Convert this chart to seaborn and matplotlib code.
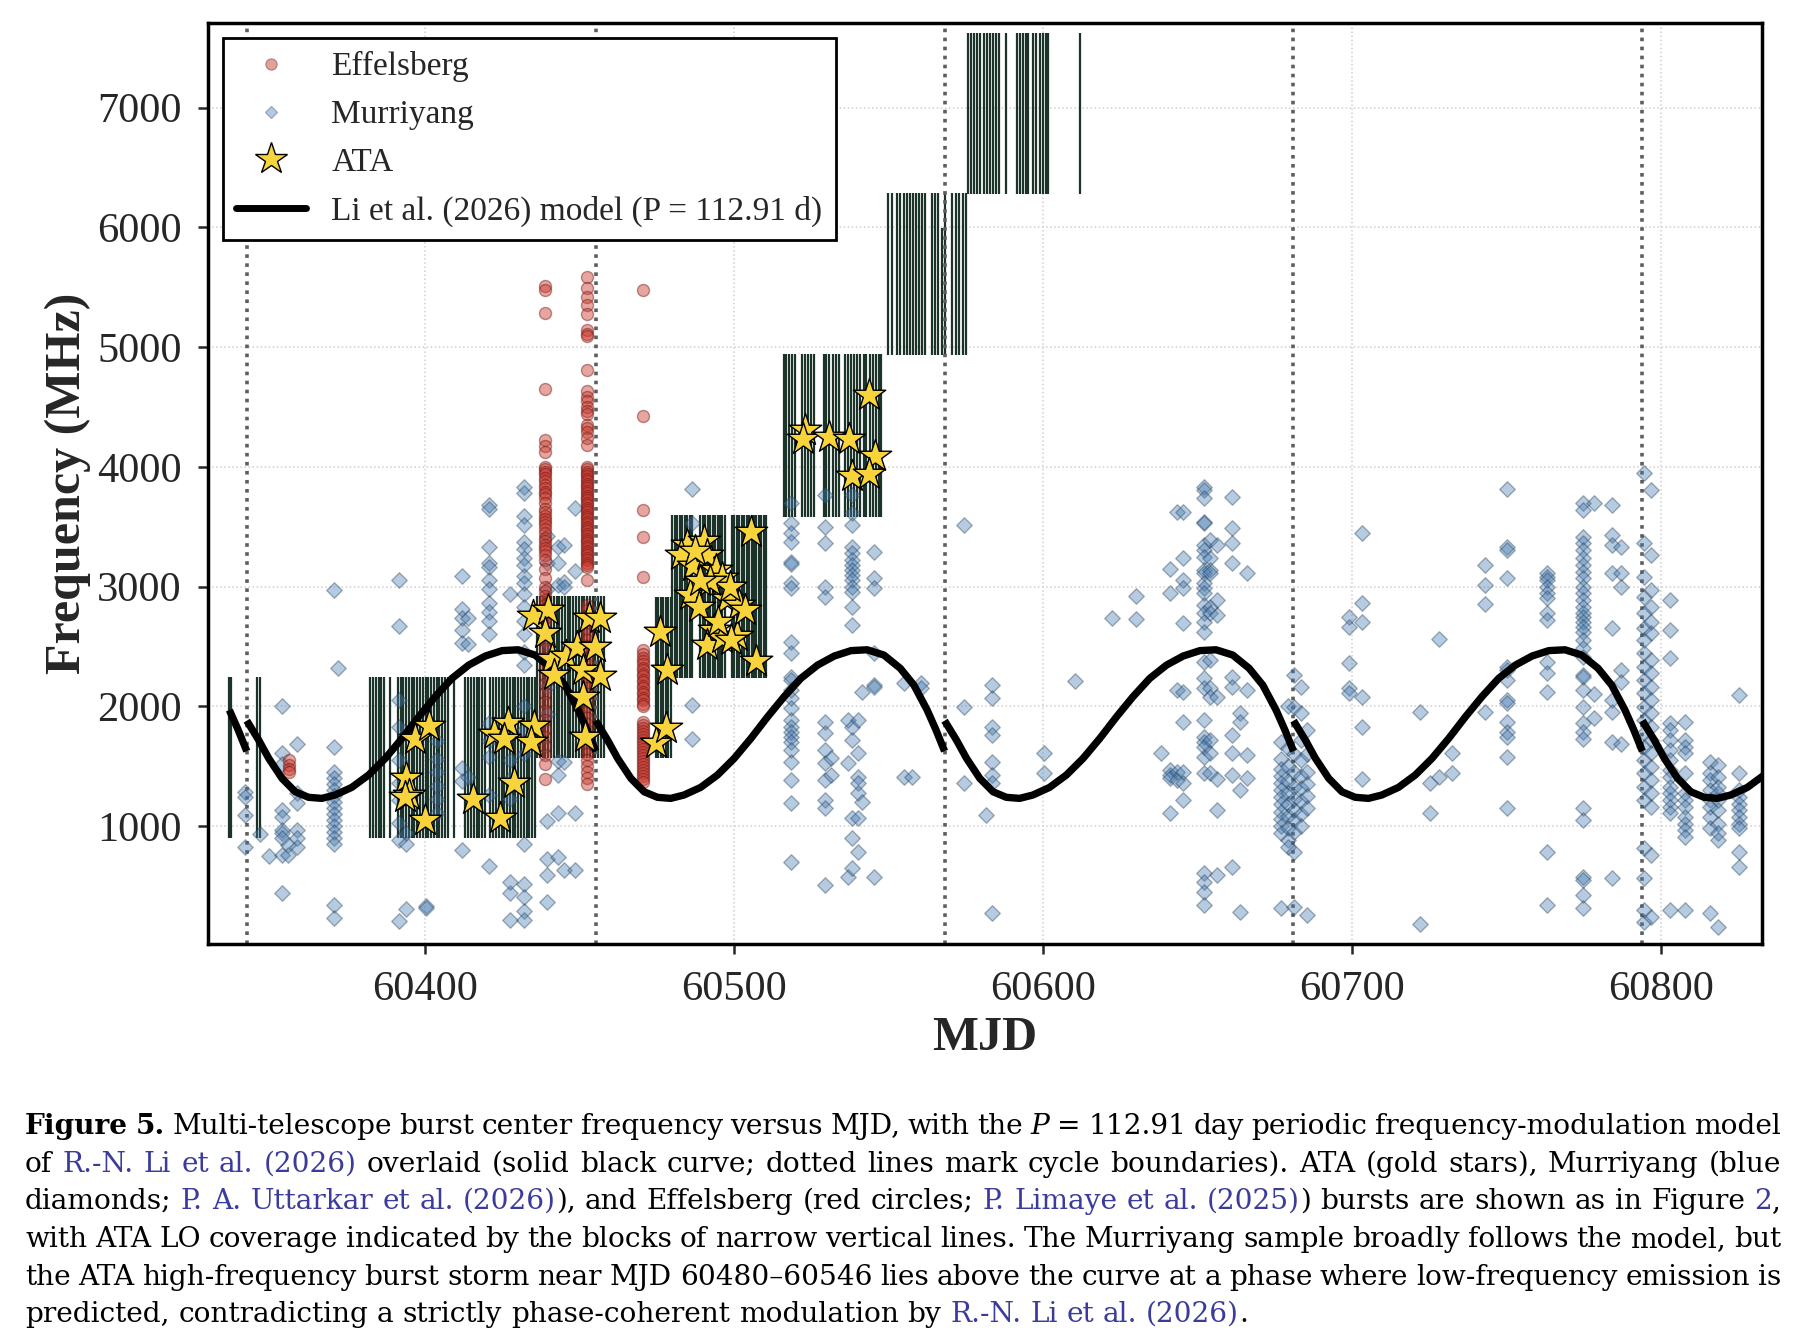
import numpy as np
import pandas as pd
import matplotlib
matplotlib.use("Agg")
import matplotlib.pyplot as plt
import seaborn as sns
from matplotlib.lines import Line2D

# ---------------- data ----------------
# Murriyang bursts: one entry per observing day, list of centre frequencies (MHz)
murr_days = [60341.8, 60346.8, 60349.8, 60353.8, 60355.8, 60358.8, 60370.7, 60372.0, 60391.8, 60394.0,
             60400.6, 60404.0, 60412.0, 60414.0, 60420.7, 60427.5, 60432.2, 60439.6, 60443.3, 60445.0,
             60448.7, 60486.4, 60518.6, 60529.6, 60531.5, 60537.0, 60538.4, 60540.4, 60541.5, 60545.4,
             60555.2, 60557.7, 60560.6, 60574.6, 60581.6, 60583.6, 60600.3, 60610.5, 60622.4, 60630.3,
             60638.4, 60641.3, 60643.5, 60645.5, 60652.1, 60654.2, 60656.4, 60661.2, 60664.0, 60666.1,
             60677.0, 60679.5, 60681.5, 60683.5, 60685.5, 60699.0, 60703.3, 60722.2, 60725.4, 60728.2,
             60732.4, 60743.2, 60750.2, 60763.2, 60775.0, 60778.3, 60784.2, 60787.1, 60794.5, 60796.8,
             60803.1, 60808.0, 60816.0, 60818.5, 60825.5]
murr_freqs = [
    [1286, 1244, 1092, 822], [933], [750],
    [2000, 1606, 1522, 1133, 1078, 967, 939, 897, 758, 439], [842, 758],
    [1689, 1272, 1189, 967, 897, 828],
    [2972, 1661, 1453, 1400, 1350, 1300, 1250, 1200, 1150, 1100, 1050, 1000, 950, 900, 850, 342, 231],
    [2322],
    [3056, 2669, 2056, 1828, 1550, 1356, 1217, 1022, 883, 203], [939, 852, 311], [330, 316],
    [1709, 1560, 1448, 1336, 1225, 1113],
    [3089, 2809, 2734, 2641, 2529, 1486, 1374, 796], [2740, 2520, 1410],
    [3685, 3648, 3331, 3200, 3163, 3051, 2977, 2865, 2790, 2716, 2604, 1858, 1709, 1578, 1259, 666],
    [2940, 1389, 1222, 1555, 442, 535, 218],
    [3834, 3778, 3592, 3517, 3368, 3312, 3238, 3182, 3089, 3033, 2940, 2828, 2716, 2604, 2455, 2343,
     2000, 1800, 1600, 852, 517, 405, 293, 218],
    [3424, 3200, 2977, 2753, 2529, 2380, 2157, 1933, 1038, 721, 591, 367],
    [3331, 3200, 3014, 1541, 1430, 1113, 740], [3350, 3035, 2998, 1537, 630], [3655, 3126, 636, 1108],
    [3814, 3527, 2010, 1723],
    [3695, 3528, 3450, 3374, 3207, 3188, 3026, 2985, 2539, 2442, 2247, 2219, 2136, 2066, 1982, 1885,
     1829, 1788, 1746, 1704, 1634, 1537, 1384, 1195, 702],
    [3764, 3500, 3360, 2999, 2915, 1871, 1774, 1634, 1523, 1384, 1217, 1147, 507], [1565, 1426],
    [1885, 1523, 576],
    [3764, 3611, 3514, 3333, 3277, 3221, 3180, 3138, 3096, 3054, 2999, 2957, 2832, 2678, 1829, 1718,
     1064, 897, 646],
    [1885, 1607, 1412, 1356, 1272, 1064, 785], [2122, 1203], [3291, 3068, 2985, 2442, 2177, 2163, 576],
    [2191, 1412], [1412], [2191, 2150], [3514, 1991, 1356], [1091],
    [2177, 2066, 1824, 1760, 1537, 1426, 1356, 270], [1607, 1440], [2213], [2734], [2921, 2726],
    [1612], [3143, 2948, 1467, 1426, 1398, 1106], [3625, 2136, 1454, 1384],
    [3624, 3235, 3054, 2984, 2697, 2121, 1870, 1453, 1356, 1216],
    [3833, 3805, 3736, 3541, 3527, 3346, 3304, 3249, 3137, 3109, 3026, 2984, 2942, 2845, 2775, 2706,
     2622, 2372, 2233, 2149, 1885, 1745, 1703, 1662, 1578, 1439, 604, 534, 451, 340],
    [3388, 3235, 3137, 3109, 2831, 2775, 2386, 2149, 2079, 1717, 1606, 1439],
    [3346, 2887, 2761, 2079, 1397, 1133, 590],
    [3750, 3485, 3360, 3193, 2247, 2163, 1759, 1606, 1425, 659], [1940, 1870, 1300, 285],
    [3110, 2136, 1592, 1398],
    [1703, 1564, 1480, 1420, 1360, 1300, 1240, 1180, 1120, 1060, 1000, 940, 312],
    [2000, 1650, 1500, 1380, 1280, 1180, 1080, 980, 880, 827],
    [2260, 1996, 1600, 1450, 1330, 1230, 1130, 1050, 950, 785, 325],
    [2163, 1940, 1717, 1550, 1420, 1320, 1210, 1100, 1000],
    [1800, 1600, 1450, 1350, 1250, 1150, 256],
    [2747, 2664, 2358, 2149, 2107], [3443, 2859, 2706, 2079, 1829, 1397], [1954, 186], [1356, 1105],
    [2566, 1411], [1606, 1439], [3179, 3012, 2853, 1954],
    [3811, 3332, 3304, 3068, 2330, 2302, 2219, 2051, 2024, 1870, 1787, 1745, 1578, 1147],
    [3109, 3082, 3054, 2998, 2943, 2901, 2776, 2720, 2372, 2274, 2121, 785, 339],
    [3694, 3638, 3416, 3360, 3304, 3235, 3179, 3123, 3068, 2998, 2943, 2887, 2831, 2775, 2748, 2706,
     2664, 2622, 2553, 2483, 2413, 2260, 2246, 2135, 1996, 1857, 1787, 1731, 1147, 1049, 576, 548, 423, 312],
    [3694, 2100, 1900],
    [3680, 3430, 3346, 3109, 2650, 2051, 1954, 1703, 562],
    [3332, 3109, 2998, 2302, 2204, 1689],
    [3945, 3360, 3082, 2915, 2776, 2650, 2553, 2441, 2330, 2219, 2107, 1996, 1885, 1773, 1662, 1550,
     1439, 1328, 1216, 813, 562, 298, 200],
    [3805, 3262, 2971, 2831, 2706, 2608, 2386, 2274, 2163, 2051, 1940, 1829, 1717, 1606, 1495, 1383,
     1272, 1161, 757, 242],
    [2887, 2636, 2400, 1857, 1801, 1717, 1634, 1550, 1467, 1411, 1328, 1272, 1216, 1161, 1105, 298],
    [1870, 1717, 1662, 1606, 1439, 1272, 1216, 1161, 1077, 1021, 966, 910, 298],
    [1536, 1439, 1383, 1300, 1216, 1161, 1077, 980, 270],
    [1509, 1411, 1328, 1272, 1216, 1130, 1021, 938, 882, 158],
    [2093, 1439, 1300, 1244, 1188, 1133, 1077, 1021, 980, 785, 660],
]

# Effelsberg bursts
eff_days = [60356.0, 60439.0, 60452.5, 60470.8]
eff_freqs = [
    [1550, 1508, 1480, 1453],
    [5507, 5477, 5281, 4652, 4226, 4175, 4126, 3997, 3980, 3960, 3940, 3905, 3880, 3849, 3820, 3793,
     3770, 3738, 3700, 3645, 3620, 3590, 3560, 3535, 3510, 3479, 3450, 3405, 3380, 3350, 3320, 3294,
     3260, 3220, 3146, 3072, 2998, 2960, 2924, 2890, 2850, 2810, 2776, 2740, 2702, 2628, 2554, 2480,
     2406, 2332, 2258, 2184, 2110, 2036, 1962, 1888, 1814, 1740, 1666, 1592, 1518, 1389],
    [5581, 5496, 5422, 5348, 5274, 5144, 5110, 5089, 4811, 4633, 4580, 4552, 4497, 4470, 4441, 4348,
     4320, 4293, 4238, 4182, 4000, 3980, 3960, 3940, 3920, 3900, 3880, 3860, 3840, 3820, 3800, 3780,
     3760, 3740, 3720, 3700, 3680, 3660, 3640, 3620, 3600, 3580, 3560, 3540, 3520, 3500, 3480, 3460,
     3440, 3420, 3400, 3380, 3360, 3340, 3320, 3300, 3280, 3260, 3240, 3220, 3200, 3180, 3160, 3054,
     2850, 2800, 2750, 2700, 2650, 2600, 2550, 2500, 2450, 2400, 2350, 2300, 2250, 2200, 2150, 2100,
     2050, 2000, 1950, 1900, 1850, 1800, 1750, 1700, 1650, 1600, 1550, 1500, 1450, 1400, 1350],
    [5477, 4422, 3639, 3411, 3082, 2470, 2440, 2400, 2380, 2350, 2320, 2300, 2270, 2250, 2220, 2200,
     2170, 2150, 2120, 2100, 2070, 2050, 2020, 2000, 1867, 1845, 1820, 1795, 1770, 1745, 1720, 1695,
     1670, 1645, 1620, 1595, 1570, 1545, 1520, 1495, 1470, 1445, 1420, 1395, 1370],
]

# ATA bursts
ata_mjd = [60394.0, 60395.1, 60393.6, 60397.0, 60401.5, 60400.0, 60415.7, 60424.3, 60422.4, 60426.9,
           60425.8, 60428.8, 60435.5, 60434.4,
           60435.2, 60440.0, 60438.9, 60441.2, 60445.6, 60441.9, 60449.4, 60451.3, 60453.1, 60456.9,
           60455.0, 60456.9, 60451.3, 60452.0,
           60476.3, 60478.6, 60474.8, 60478.2,
           60484.9, 60490.5, 60483.1, 60486.8, 60491.3, 60494.3, 60496.1, 60486.0, 60488.7, 60498.0,
           60501.8, 60505.5, 60493.5, 60491.3, 60496.1, 60501.0, 60507.4, 60503.7, 60498.8, 60492.4,
           60487.5, 60489.0, 60495.0, 60499.0,
           60523.1, 60522.3, 60531.0, 60537.3, 60543.7, 60545.9, 60538.4, 60543.7]
ata_freq = [1405, 1260, 1241, 1723, 1839, 1048, 1222, 1068, 1771, 1858, 1723, 1357, 1839, 1704,
            2755, 2803, 2610, 2398, 2417, 2263, 2495, 2302, 2736, 2736, 2495, 2254, 2080, 1743,
            2620, 2302, 1694, 1820,
            3343, 3382, 3266, 3170, 3266, 3141, 3073, 2929, 2832, 2900, 2842, 3459, 2639, 2514,
            2572, 2591, 2379, 2803, 2996, 3044, 3300, 3050, 2700, 2550,
            4308, 4230, 4250, 4230, 4597, 4086, 3922, 3941]

# ATA LO coverage: observing days and band edges (MHz) of each block
lo_days = [
    [60336.6, 60337.4, 60345.8, 60346.7],
    [60382.4, 60383.3, 60384.2, 60385.1, 60386.0, 60386.9, 60388.7, 60391.3, 60392.2, 60393.1, 60394.0,
     60394.9, 60395.8, 60396.7, 60397.6, 60398.5, 60399.4, 60400.3, 60401.2, 60402.1, 60403.0, 60403.9,
     60404.8, 60405.7, 60406.6, 60407.5, 60409.4, 60413.2, 60414.1, 60415.0, 60415.9, 60416.8, 60417.7,
     60418.6, 60419.5, 60421.3, 60422.2, 60423.1, 60424.0, 60424.9, 60425.8, 60426.7, 60427.6, 60428.5,
     60429.4, 60430.3, 60431.2, 60432.1, 60433.0, 60433.9, 60434.8, 60435.7],
    [60436.4, 60437.3, 60438.2, 60439.1, 60440.0, 60440.9, 60441.8, 60442.7, 60443.6, 60444.5, 60445.4,
     60446.3, 60447.2, 60448.1, 60449.0, 60449.9, 60450.8, 60451.7, 60452.6, 60453.5, 60454.4, 60455.3,
     60456.2, 60457.1, 60458.0],
    [60474.8, 60475.6, 60476.4, 60477.2, 60478.0, 60478.8, 60479.6],
    [60480.2, 60481.0, 60481.8, 60482.6, 60483.4, 60484.2, 60485.0, 60485.8, 60486.6, 60489.2, 60490.0,
     60490.8, 60491.6, 60492.4, 60493.2, 60494.0, 60494.8, 60495.6, 60496.4, 60497.2, 60499.4, 60500.2,
     60501.0, 60501.8, 60502.6, 60503.4, 60504.2, 60505.0, 60505.8, 60506.6, 60507.4, 60508.2, 60509.0,
     60509.8, 60510.6],
    [60516.2, 60517.1, 60518.0, 60519.0, 60520.0, 60522.1, 60523.0, 60524.0, 60525.0, 60526.0, 60529.1,
     60530.0, 60531.0, 60532.0, 60533.0, 60534.0, 60536.1, 60537.0, 60538.0, 60539.0, 60540.0, 60541.0,
     60542.1, 60543.0, 60544.0, 60545.0, 60546.0, 60547.0, 60547.8],
    [60550.1, 60551.2, 60553.0, 60554.0, 60555.0, 60556.0, 60557.0, 60558.0, 60559.0, 60560.0, 60561.0,
     60562.0, 60564.1, 60565.2, 60566.2, 60568.5, 60570.8, 60571.9, 60573.0, 60574.1, 60575.2],
    [60576.0, 60576.9, 60577.8, 60578.8, 60579.7, 60580.9, 60581.9, 60582.9, 60583.9, 60584.9, 60585.9,
     60588.1, 60591.6, 60592.6, 60593.6, 60594.6, 60595.4, 60597.0, 60598.0, 60599.0, 60600.0, 60601.0,
     60601.6, 60612.2],
]
lo_low = [900, 900, 1570, 1570, 2235, 3580, 4933, 6277]
lo_high = [2245, 2245, 2920, 2915, 3595, 4940, 6284, 7624]
short_lo_day, short_lo_low, short_lo_high = 60567.4, 4933, 5990

# Li et al. (2026) model: period, reference epoch and the curve shape over one cycle
model_period = 112.91
model_epoch = 60342.45
model_phase = [0.0, 0.034, 0.063, 0.101, 0.139, 0.177, 0.215, 0.253, 0.301, 0.349, 0.397, 0.445, 0.493,
               0.540, 0.588, 0.636, 0.684, 0.732, 0.778, 0.826, 0.873, 0.912, 0.950, 0.975, 1.0]
model_freq = [1880, 1718, 1565, 1398, 1286, 1240, 1231, 1259, 1323, 1426, 1565, 1732, 1913, 2080, 2233,
              2344, 2420, 2465, 2472, 2428, 2317, 2177, 1969, 1805, 1625]
model_cycles = [-1, 0, 1, 2, 3, 4]
model_start = 60336.6

xticks = [60400, 60500, 60600, 60700, 60800]
yticks = [1000, 2000, 3000, 4000, 5000, 6000, 7000]

# ---------------- plot ----------------
sns.set_style("ticks")
plt.rcParams["font.family"] = ["Liberation Serif", "DejaVu Serif"]

fig = plt.figure(figsize=(18.12, 13.38), dpi=100)
ax = fig.add_axes([208 / 1812, 1 - 944 / 1338, 1554 / 1812, 921 / 1338])

block_color = "#1b3328"
for days, lo, hi in zip(lo_days, lo_low, lo_high):
    ax.vlines(days, lo, hi, color=block_color, lw=1.6, zorder=1)
ax.vlines([short_lo_day], short_lo_low, short_lo_high, color=block_color, lw=1.6, zorder=1)

for n in range(0, 5):
    ax.axvline(model_epoch + n * model_period, color="#5e5e5e", ls=(0, (1, 1.5)), lw=2.6, zorder=2)

murr = pd.DataFrame({"MJD": np.repeat(murr_days, [len(f) for f in murr_freqs]),
                     "freq": np.concatenate(murr_freqs)})
eff = pd.DataFrame({"MJD": np.repeat(eff_days, [len(f) for f in eff_freqs]),
                    "freq": np.concatenate(eff_freqs)})
ata = pd.DataFrame({"MJD": ata_mjd, "freq": ata_freq})

sns.scatterplot(data=murr, x="MJD", y="freq", marker="D", s=62, color="#4a7db3", alpha=0.4,
                edgecolor="#24405c", linewidth=1.0, ax=ax, zorder=3, legend=False)
sns.scatterplot(data=eff, x="MJD", y="freq", marker="o", s=75, color="#c8392e", alpha=0.45,
                edgecolor="#6e1510", linewidth=1.0, ax=ax, zorder=3, legend=False)

ph = np.array(model_phase)
for n in model_cycles:
    mjd = model_epoch + (n + ph) * model_period
    keep = mjd >= model_start
    ax.plot(mjd[keep], np.array(model_freq)[keep], color="black", lw=5.3, zorder=5,
            solid_capstyle="butt", solid_joinstyle="round")

sns.scatterplot(data=ata, x="MJD", y="freq", marker="*", s=600, color="#f7d43c",
                edgecolor="black", linewidth=1.0, ax=ax, zorder=6, legend=False)

ax.set_xlim(60329.9, 60832.8)
ax.set_ylim(15, 7706)
ax.set_xticks(xticks)
ax.set_yticks(yticks)
ax.grid(True, color="#cfcfcf", ls=":", lw=1.1)
ax.set_axisbelow(True)
ax.tick_params(labelsize=30.5, length=7, width=1.8, direction="out")
ax.tick_params(axis="x", pad=12)
ax.tick_params(axis="y", pad=12)
for sp in ax.spines.values():
    sp.set_linewidth(2.5)
    sp.set_color("black")
ax.set_xlabel("MJD", fontsize=35, fontweight="bold", labelpad=5)
ax.set_ylabel("Frequency (MHz)", fontsize=36, fontweight="bold", labelpad=4)

handles = [
    Line2D([], [], ls="none", marker="o", ms=8, mfc="#e3a09a", mec="#b07a76", mew=0.8),
    Line2D([], [], ls="none", marker="D", ms=6.5, mfc="#b4c9de", mec="#8ea3b8", mew=0.8),
    Line2D([], [], ls="none", marker="*", ms=24, mfc="#f7d43c", mec="black", mew=1.0),
    Line2D([], [], color="black", lw=5),
]
labels = ["Effelsberg", "Murriyang", "ATA", "Li et al. (2026) model (P = 112.91 d)"]
leg = ax.legend(handles, labels, loc="upper left", fontsize=24, frameon=True, fancybox=False,
                framealpha=1, edgecolor="black", borderaxespad=0.45, labelspacing=0.52,
                handlelength=2.1, handletextpad=0.75, borderpad=0.4)
leg.get_frame().set_linewidth(2.0)
leg.set_zorder(10)

# ---------------- caption (justified, with coloured citations) ----------------
link = "#3b3b9c"
cap_font = "DejaVu Serif"
caption = [
    [("Figure 5.", "b"), (" Multi-telescope burst center frequency versus MJD, with the ", "n"), ("P", "i"),
     (" = 112.91 day periodic frequency-modulation model", "n")],
    [("of ", "n"), ("R.-N. Li et al. (2026)", "l"),
     (" overlaid (solid black curve; dotted lines mark cycle boundaries). ATA (gold stars), Murriyang (blue", "n")],
    [("diamonds; ", "n"), ("P. A. Uttarkar et al. (2026)", "l"), ("), and Effelsberg (red circles; ", "n"),
     ("P. Limaye et al. (2025)", "l"), (") bursts are shown as in Figure ", "n"), ("2", "l"), (",", "n")],
    [("with ATA LO coverage indicated by the blocks of narrow vertical lines. The Murriyang sample broadly follows the model, but", "n")],
    [("the ATA high-frequency burst storm near MJD 60480\u201360546 lies above the curve at a phase where low-frequency emission is", "n")],
    [("predicted, contradicting a strictly phase-coherent modulation by ", "n"), ("R.-N. Li et al. (2026)", "l"), (".", "n")],
]
cap_left, cap_right = 25, 1781
cap_base = [1134, 1172, 1209, 1247, 1285, 1322]


def tokenize(segs):
    out, space = [], False
    for text, st in segs:
        for i, part in enumerate(text.split(" ")):
            if i > 0:
                space = True
            if part == "":
                continue
            out.append((part, st, space and len(out) > 0))
            space = False
    return out


def style(st):
    kw = {"color": "black", "family": cap_font}
    if st == "b":
        kw["fontweight"] = "bold"
    if st == "i":
        kw["fontstyle"] = "italic"
    if st == "l":
        kw["color"] = link
    return kw


renderer = fig.canvas.get_renderer()


def width(s, st, fs):
    t = fig.text(0, 0, s, fontsize=fs, **style(st))
    w = t.get_window_extent(renderer).width
    t.remove()
    return w


lines = [tokenize(s) for s in caption]
fs = 20.5
for _ in range(3):
    sp = width("a a", "n", fs) - width("aa", "n", fs)
    nat = [sum(width(w, st, fs) for w, st, _ in ln) + 0.8 * sp * sum(g for _, _, g in ln) for ln in lines[:-1]]
    if max(nat) > (cap_right - cap_left):
        fs *= (cap_right - cap_left) / max(nat) * 0.995
    else:
        break
sp = width("a a", "n", fs) - width("aa", "n", fs)

W = 1812.0
H = 1338.0
for k, (ln, yb) in enumerate(zip(lines, cap_base)):
    ws = [width(w, st, fs) for w, st, _ in ln]
    ngap = sum(g for _, _, g in ln)
    gap = sp if k == len(lines) - 1 else (cap_right - cap_left - sum(ws)) / max(ngap, 1)
    x = cap_left
    for (w, st, g), wd in zip(ln, ws):
        if g:
            x += gap
        fig.text(x / W, 1 - yb / H, w, fontsize=fs, va="baseline", ha="left", **style(st))
        x += wd

fig.savefig("out.png", dpi=100)
